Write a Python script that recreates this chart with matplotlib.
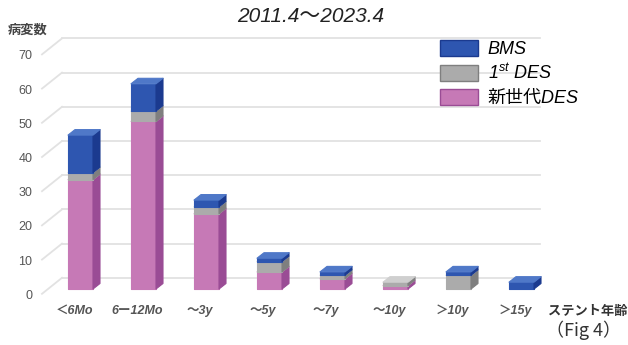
import matplotlib
matplotlib.use("Agg")
import matplotlib.pyplot as plt
from matplotlib.patches import Polygon, Patch
from matplotlib.font_manager import FontProperties
import numpy as np

plt.rcParams['font.family'] = ['Liberation Sans', 'Noto Sans CJK JP', 'DejaVu Sans']
plt.rcParams['mathtext.fontset'] = 'custom'
plt.rcParams['mathtext.rm'] = 'Liberation Sans'
plt.rcParams['mathtext.it'] = 'Liberation Sans:italic'

# ---- data ----
categories = ["＜6Mo", "6ー12Mo", "〜3y", "〜5y", "〜7y", "〜10y", "＞10y", "＞15y"]
new_des = [32, 49, 22, 5, 3, 1, 0, 0]
first_des = [2, 3, 2, 3, 1, 1, 4, 0]
bms = [11, 8, 2, 1, 1, 0, 1, 2]
y_ticks = [0, 10, 20, 30, 40, 50, 60, 70]
series_names = ["BMS", "1$^{st}$ DES", "新世代DES"]

# ---- colours (front, side, top) ----
pal = {
    "new": ("#c679b6", "#9a4c95", "#dba2cf"),
    "first": ("#ababab", "#7f7f7f", "#cfcfcf"),
    "bms": ("#2e56b0", "#1b3a8f", "#4f78c8"),
}

W, H = 628, 345
fig = plt.figure(figsize=(W / 100, H / 100), dpi=100)
ax = fig.add_axes([0, 0, 1, 1])
# unit scales: 63 px per category, 3.42 px per count
px_x, px_y = 63.0, 3.42
x0_px, y0_px = 80.5, 289.0
ax.set_xlim((0 - x0_px) / px_x, (W - x0_px) / px_x)
ax.set_ylim((y0_px - H) / px_y, y0_px / px_y)
ax.axis("off")

# perspective offsets (in data units)
back_dx, back_dy = 20 / px_x, 16 / px_y       # front plane -> back wall
front_dy = -1.4                                # front plane relative to bar base
bar_w = 25 / px_x
side_dx, side_dy = 7 / px_x, 5.5 / px_y

x = np.arange(len(categories))
wall_left = (62 - x0_px) / px_x
wall_right = (540 - x0_px) / px_x
front_left = wall_left - back_dx

# grid: back wall lines and slanted side lines
for v in y_ticks:
    yb = v + front_dy + back_dy
    ax.plot([wall_left, wall_right], [yb, yb], color="#e2e2e2", lw=1.3, zorder=1)
    ax.plot([front_left, wall_left], [v + front_dy, yb], color="#e2e2e2", lw=1.3, zorder=1)
    ax.text(front_left - 0.15, v + front_dy - 0.6, str(v), ha="right", va="center",
            fontsize=9, color="#555555", zorder=5)


def draw_segment(xc, bottom, val, cols, z):
    if val <= 0:
        return
    front, side, top = cols
    ax.bar([xc], [val], bottom=[bottom], width=bar_w, color=front,
           edgecolor=front, linewidth=0.8, joinstyle="round", zorder=z)
    xl, xr = xc - bar_w / 2, xc + bar_w / 2
    t = bottom + val
    ax.add_patch(Polygon([(xr, bottom), (xr + side_dx, bottom + side_dy),
                          (xr + side_dx, t + side_dy), (xr, t)],
                         closed=True, facecolor=side, edgecolor=side, lw=0.8,
                         joinstyle="round", zorder=z))
    ax.add_patch(Polygon([(xl, t), (xl + side_dx, t + side_dy),
                          (xr + side_dx, t + side_dy), (xr, t)],
                         closed=True, facecolor=top, edgecolor=top, lw=0.8,
                         joinstyle="round", zorder=z))


for i, xc in enumerate(x):
    b = 0.0
    draw_segment(xc, b, new_des[i], pal["new"], 3 + 3 * i)
    b += new_des[i]
    draw_segment(xc, b, first_des[i], pal["first"], 4 + 3 * i)
    b += first_des[i]
    draw_segment(xc, b, bms[i], pal["bms"], 5 + 3 * i)

# category labels
for xc, lab in zip(x, categories):
    ax.text(xc - 0.1, (y0_px - 311) / px_y, lab, ha="center", va="center",
            fontsize=9, fontweight="bold", style="italic", color="#555555",
            family=['Liberation Sans', 'Noto Sans CJK JP'])

ax.text((548 - x0_px) / px_x, (y0_px - 311) / px_y, "ステント年齢", ha="left",
        va="center", fontsize=9.5, fontweight="bold", color="#333333",
        family=['Noto Sans CJK JP'])
ax.text((621 - x0_px) / px_x, (y0_px - 330) / px_y, "（Fig 4）", ha="right",
        va="center", fontsize=13, color="#333333", family=['Noto Sans CJK JP'])
ax.text((8 - x0_px) / px_x, (y0_px - 30) / px_y, "病変数", ha="left",
        va="center", fontsize=9.5, fontweight="bold", color="#444444",
        family=['Noto Sans CJK JP'])

# title
ax.text((311 - x0_px) / px_x, (y0_px - 17) / px_y, "2011.4〜2023.4", ha="center",
        va="center", fontsize=15, style="italic", color="#222222",
        family=['Liberation Sans', 'Noto Sans CJK JP'])

# legend
handles = [Patch(facecolor=pal["bms"][0], edgecolor="#1b3a8f", lw=1),
           Patch(facecolor=pal["first"][0], edgecolor="#7f7f7f", lw=1),
           Patch(facecolor=pal["new"][0], edgecolor="#9a4c95", lw=1)]
leg = fig.legend(handles, series_names, loc="upper left",
                 bbox_to_anchor=(440 / W, 1 - 40 / H), frameon=False,
                 prop=FontProperties(family=['Liberation Sans', 'Noto Sans CJK JP'],
                                     style='italic', size=13),
                 handlelength=2.1, handleheight=1.0, handletextpad=0.55,
                 labelspacing=0.3, borderpad=0, borderaxespad=0)

fig.savefig("out.png", dpi=100, facecolor="white")
